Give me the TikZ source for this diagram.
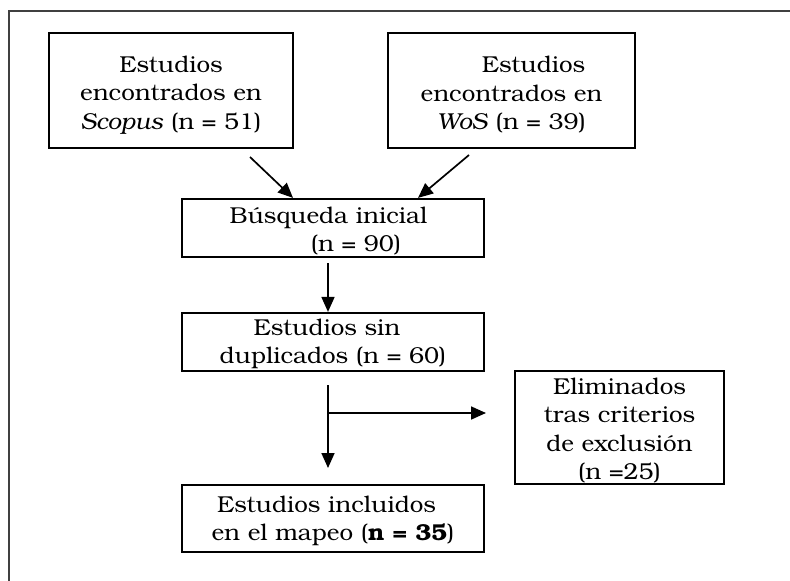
\documentclass[tikz,border=0pt]{standalone}
\usepackage{fontspec}
\setmainfont[FakeStretch=1.05]{TeX Gyre Bonum}
\usetikzlibrary{arrows.meta,calc}
\newcommand{\fstrut}[1]{\rule{0pt}{#1}}
\begin{document}
\begin{tikzpicture}[x=1pt,y=-1pt,
  box/.style={draw, line width=2.2pt, inner sep=0pt, align=center,
    font=\fontsize{23}{28.5}\selectfont},
  arr/.style={line width=1.7pt, -{Triangle[length=15pt,width=13pt]}}]
\useasboundingbox (0,0) rectangle (790,581);
\draw[line width=2pt, black!75] (8.5,581) -- (8.5,11) -- (790,11);
\node[box, minimum width=244pt, minimum height=115pt] (scopus) at (171,90.5)
  {\fstrut{25pt}Estudios\\encontrados en\\\textit{Scopus} (n = 51)};
\node[box, minimum width=247pt, minimum height=115pt] (wos) at (511.5,90.5)
  {\fstrut{25pt}\hspace*{44pt}Estudios\\encontrados en\\\textit{WoS} (n = 39)};
\node[box, minimum width=302pt, minimum height=58pt] (busq) at (333,228)
  {\fstrut{22pt}Búsqueda inicial\hspace*{9pt}\\\hspace*{46pt}(n = 90)};
\node[box, minimum width=302pt, minimum height=58pt] (sindup) at (333,342)
  {\fstrut{20pt}Estudios sin\hspace*{12pt}\\duplicados (n = 60)};
\node[box, minimum width=209pt, minimum height=113pt] (elim) at (619.5,427.5)
  {\fstrut{22pt}Eliminados\\tras criterios\\de exclusión\\(n =25)};
\node[box, minimum width=302pt, minimum height=67pt] (incl) at (333,518.5)
  {\fstrut{21pt}Estudios incluidos\hspace*{13pt}\\en el mapeo (\textbf{n = 35})};
\coordinate (a1s) at (250,157);
\coordinate (a2s) at (469,155);
\coordinate (a3s) at (328,263);
\coordinate (a4s) at (328,385);
\coordinate (br) at (328,413);
\coordinate (brend) at (486,413);
\coordinate (a4e) at (328,468);
\draw[arr] (a1s) -- (busq.north west -| 293,0);
\draw[arr] (a2s) -- (busq.north west -| 418,0);
\draw[arr] (a3s) -- (sindup.north west -| 328,0);
\draw[arr] (a4s) -- (a4e);
\draw[arr] (br) -- (brend);
\end{tikzpicture}
\end{document}
